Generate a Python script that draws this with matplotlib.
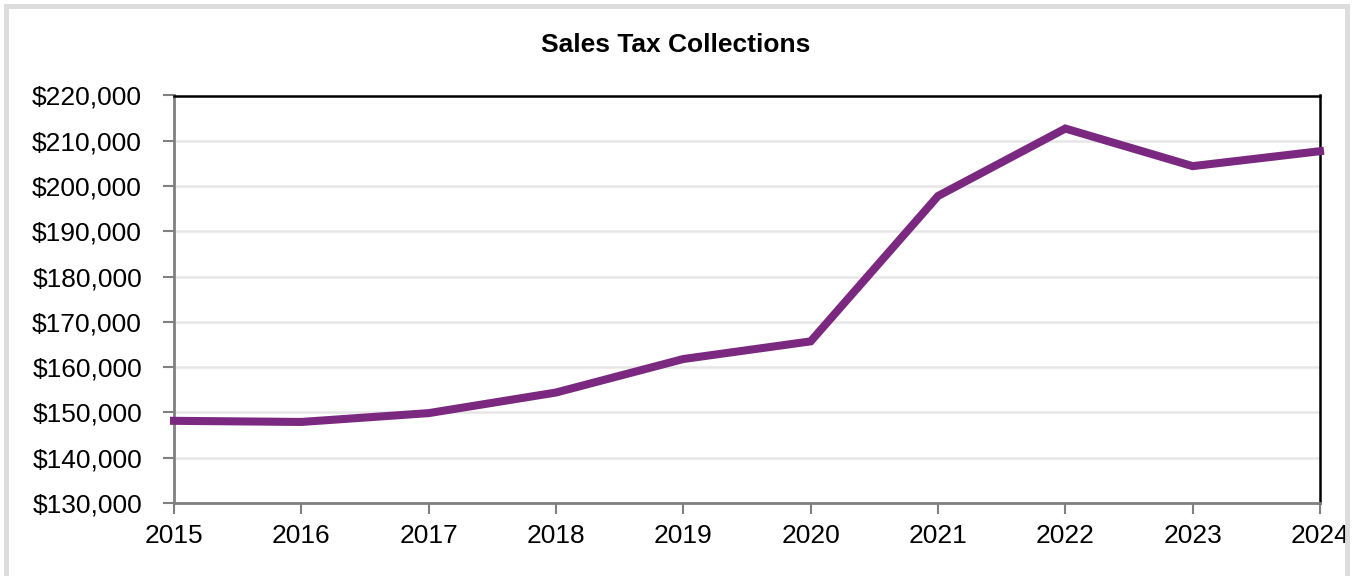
import matplotlib.pyplot as plt
from matplotlib.patches import Rectangle
from matplotlib.ticker import FuncFormatter

# Annual sales tax collections
years = [2015, 2016, 2017, 2018, 2019, 2020, 2021, 2022, 2023, 2024]
collections = [148150, 147900, 149850, 154400, 161800, 165700, 197800, 212700, 204400, 207700]
y_ticks = list(range(130000, 220001, 10000))

plt.rcParams['font.family'] = ['Liberation Sans', 'DejaVu Sans']

fig = plt.figure(figsize=(13.53, 5.76), dpi=100)
ax = fig.add_axes([174/1353, 1 - 503/576, (1320 - 174)/1353, (503 - 95.5)/576])

# light grey frame round the whole chart
fig.patches.append(Rectangle((6/1353, -0.05), (1347 - 6)/1353, 1.05 - 6/576, transform=fig.transFigure,
                             fill=False, edgecolor='#dcdcdc', linewidth=3.5, zorder=0))

ax.plot(years, collections, color='#7b2880', linewidth=5.8, solid_joinstyle='miter', zorder=3, clip_on=False)

ax.set_xlim(2015, 2024)
ax.set_ylim(130000, 220000)
ax.set_xticks(years)
ax.set_yticks(y_ticks)
ax.yaxis.set_major_formatter(FuncFormatter(lambda v, p: '${:,.0f}'.format(v)))

ax.grid(axis='y', color='#e6e6e6', linewidth=1.8, zorder=0)
ax.set_axisbelow(True)

for side in ['left', 'bottom']:
    ax.spines[side].set_color('#808080')
    ax.spines[side].set_linewidth(2)
for side in ['top', 'right']:
    ax.spines[side].set_color('black')
    ax.spines[side].set_linewidth(1.8)

ax.tick_params(axis='both', length=8, width=1.5, color='#808080', labelsize=19, labelcolor='black')
ax.tick_params(axis='y', pad=15)
ax.tick_params(axis='x', pad=7)

fig.text(676/1353, 1 - 45/576, 'Sales Tax Collections', ha='center', va='center',
         fontsize=19, fontweight='bold')

plt.savefig('out.png', dpi=100)
